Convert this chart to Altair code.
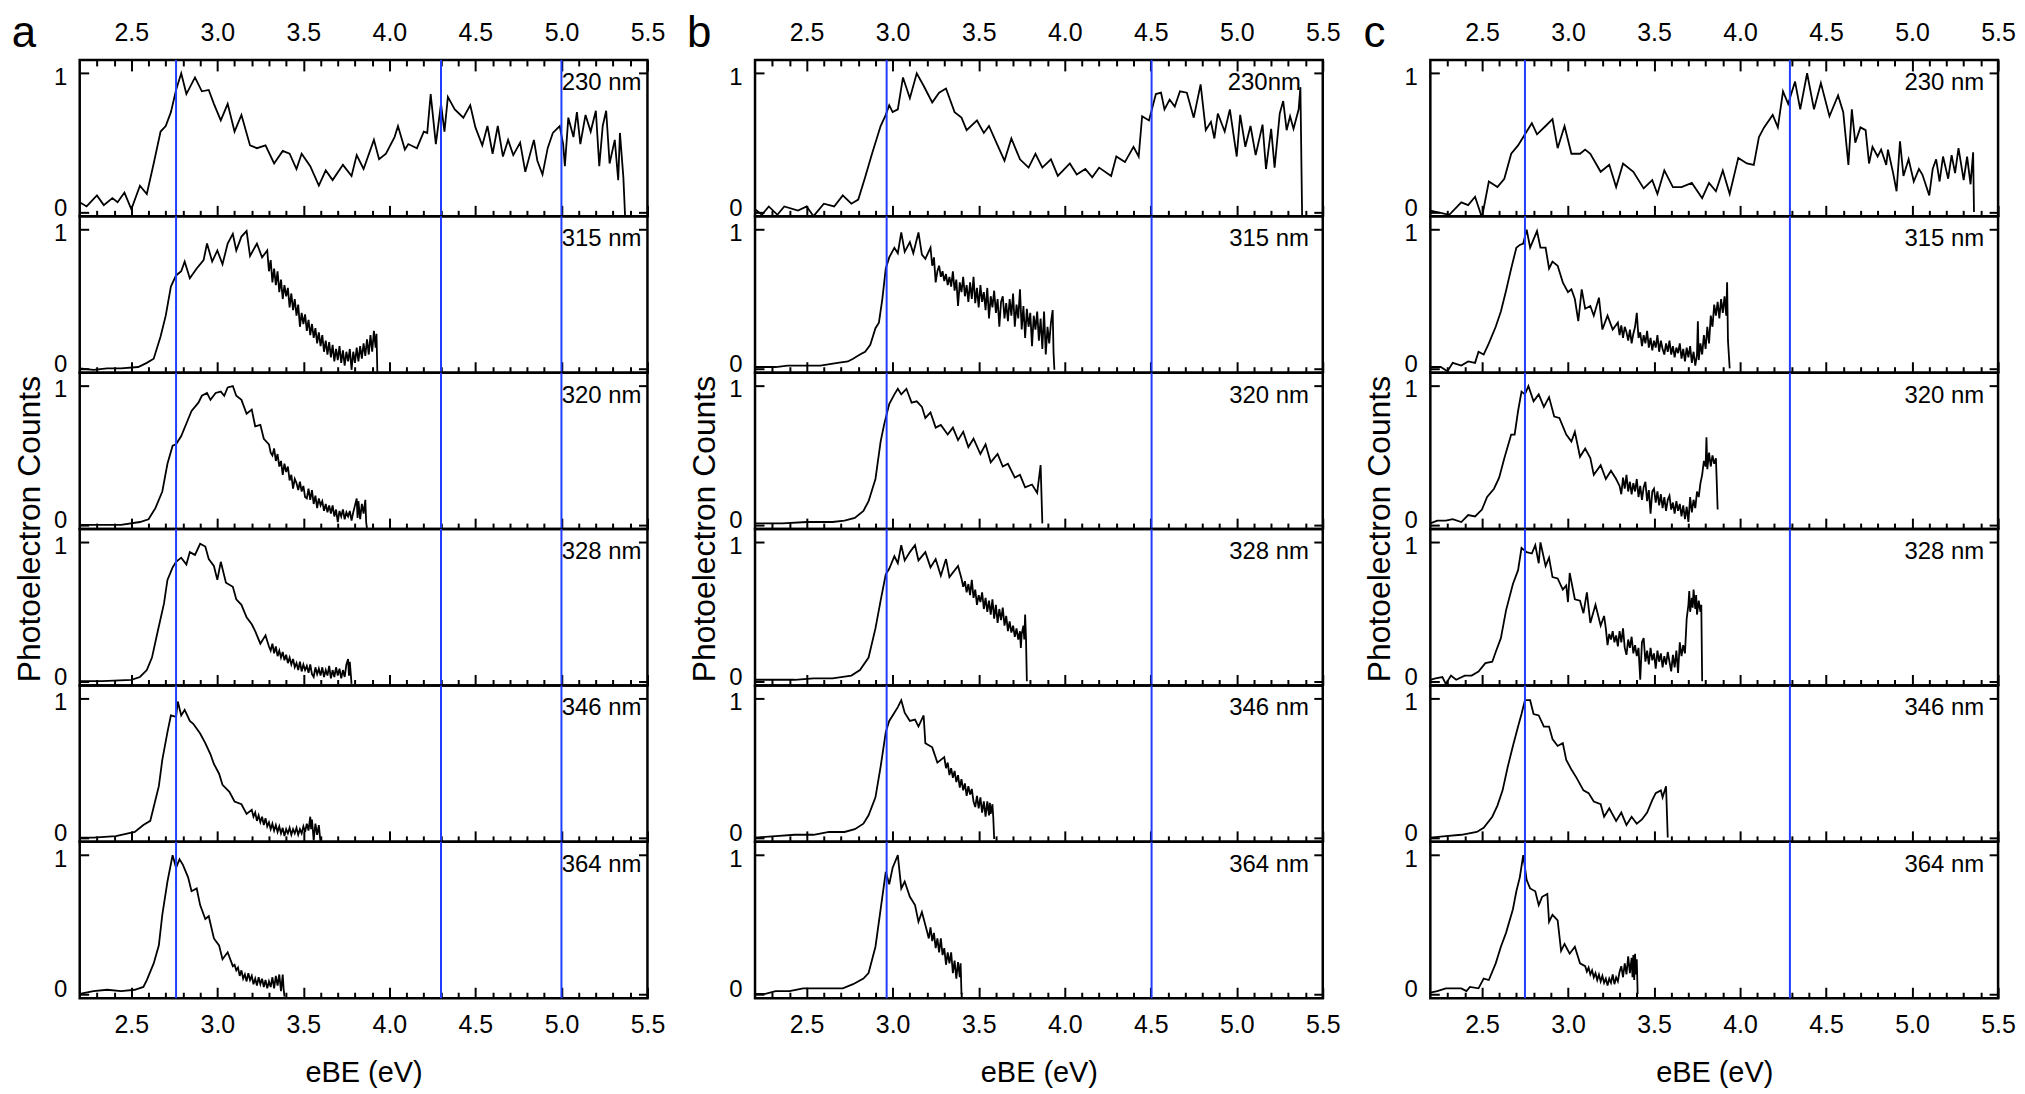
import altair as alt
import pandas as pd

FONT = "Liberation Sans"
BLUE = "#1f3cff"
XDOM = [2.2, 5.5]
YDOM = [-0.031, 1.096]
W, H = 570, 157

MAJOR = [2.5, 3.0, 3.5, 4.0, 4.5, 5.0, 5.5]
MINOR = [2.3, 2.4, 2.6, 2.7, 2.8, 2.9, 3.1, 3.2, 3.3, 3.4, 3.6, 3.7, 3.8, 3.9,
         4.1, 4.2, 4.3, 4.4, 4.6, 4.7, 4.8, 4.9, 5.1, 5.2, 5.3, 5.4]
YTICKS = [0, 1]

LABELS_A = ["230 nm", "315 nm", "320 nm", "328 nm", "346 nm", "364 nm"]
LABELS_B = ["230nm", "315 nm", "320 nm", "328 nm", "346 nm", "364 nm"]
LABELS_C = ["230 nm", "315 nm", "320 nm", "328 nm", "346 nm", "364 nm"]

VLINES_A = [2.76, 4.30, 5.00]
VLINES_B = [2.965, 4.505]
VLINES_C = [2.75, 4.29]

# ---------------- panel a ----------------
A230 = [(2.20,0.07),(2.24,0.04),(2.30,0.12),(2.34,0.05),(2.39,0.10),(2.42,0.07),(2.46,0.14),(2.50,0.02),
        (2.55,0.19),(2.59,0.13),(2.63,0.35),(2.67,0.58),(2.70,0.62),(2.73,0.72),(2.76,0.88),(2.79,1.00),
        (2.82,0.85),(2.87,0.97),(2.91,0.87),(2.95,0.88),(2.98,0.78),(3.02,0.66),(3.06,0.78),(3.10,0.58),
        (3.14,0.70),(3.19,0.48),(3.23,0.46),(3.28,0.48),(3.33,0.35),(3.38,0.44),(3.42,0.42),(3.46,0.31),
        (3.49,0.42),(3.54,0.33),(3.59,0.19),(3.63,0.30),(3.67,0.23),(3.73,0.34),(3.78,0.26),(3.81,0.41),
        (3.85,0.31),(3.91,0.52),(3.94,0.38),(3.98,0.42),(4.03,0.54),(4.05,0.62),(4.09,0.45),(4.11,0.49),
        (4.16,0.46),(4.20,0.58),(4.22,0.57),(4.24,0.85),(4.27,0.49),(4.30,0.78),(4.32,0.58),(4.34,0.83),
        (4.38,0.74),(4.43,0.68),(4.47,0.77),(4.50,0.61),(4.54,0.48),(4.57,0.62),(4.60,0.42),(4.63,0.62),
        (4.66,0.40),(4.69,0.52),(4.72,0.41),(4.76,0.50),(4.79,0.29),(4.84,0.52),(4.86,0.37),(4.89,0.27),
        (4.92,0.46),(4.95,0.57),(4.99,0.62),(5.01,0.49),(5.02,0.33),(5.04,0.68),(5.07,0.54),(5.09,0.72),
        (5.11,0.49),(5.14,0.70),(5.17,0.58),(5.20,0.73),(5.22,0.33),(5.24,0.62),(5.26,0.73),(5.28,0.35),
        (5.31,0.52),(5.33,0.23),(5.34,0.57),(5.36,0.25),(5.37,-0.03)]
A315 = [(2.20,0.00),(2.28,-0.01),(2.36,0.00),(2.44,0.00),(2.54,0.01),(2.59,0.04),(2.63,0.07),(2.67,0.23),
        (2.70,0.38),(2.73,0.59),(2.76,0.67),(2.79,0.70),(2.81,0.77),(2.84,0.65),(2.88,0.72),(2.92,0.78),
        (2.94,0.90),(2.97,0.77),(3.00,0.85),(3.03,0.75),(3.06,0.90),(3.09,0.97),(3.11,0.85),(3.14,0.95),
        (3.17,0.99),(3.19,0.81),(3.23,0.90),(3.26,0.80),(3.29,0.85),
        (3.30,0.70),(3.31,0.78),(3.32,0.62),(3.33,0.72),(3.34,0.60),(3.35,0.70),(3.36,0.55),(3.37,0.64),
        (3.38,0.50),(3.39,0.60),(3.40,0.52),(3.41,0.58),(3.42,0.44),(3.43,0.54),(3.44,0.42),(3.45,0.50),
        (3.46,0.38),(3.47,0.46),(3.48,0.30),(3.49,0.40),(3.50,0.32),(3.51,0.39),(3.52,0.27),(3.53,0.35),
        (3.54,0.24),(3.55,0.32),(3.56,0.22),(3.57,0.29),(3.58,0.18),(3.59,0.26),(3.60,0.16),(3.61,0.24),
        (3.62,0.12),(3.63,0.20),(3.64,0.10),(3.65,0.19),(3.66,0.08),(3.67,0.17),(3.68,0.05),(3.69,0.14),
        (3.70,0.06),(3.71,0.16),(3.72,0.04),(3.73,0.13),(3.74,0.02),(3.75,0.12),(3.76,0.05),(3.77,0.14),
        (3.78,-0.01),(3.79,0.12),(3.80,0.04),(3.81,0.15),(3.82,0.05),(3.83,0.16),(3.84,0.07),(3.85,0.18),
        (3.86,0.09),(3.87,0.21),(3.88,0.10),(3.89,0.24),(3.90,0.12),(3.91,0.27),(3.92,0.15),(3.925,0.25),
        (3.93,-0.03)]
A320 = [(2.20,0.00),(2.33,0.00),(2.44,0.00),(2.55,0.02),(2.60,0.04),(2.64,0.12),(2.68,0.24),(2.71,0.44),
        (2.74,0.57),(2.76,0.58),(2.79,0.64),(2.82,0.73),(2.85,0.82),(2.89,0.88),(2.91,0.93),(2.94,0.95),
        (2.96,0.90),(2.99,0.95),(3.02,0.96),(3.04,0.93),(3.06,0.99),(3.09,1.00),(3.11,0.93),(3.14,0.90),
        (3.17,0.80),(3.20,0.83),(3.22,0.71),(3.25,0.72),(3.27,0.62),
        (3.30,0.58),(3.31,0.52),(3.32,0.50),(3.33,0.55),(3.34,0.46),(3.35,0.51),(3.36,0.42),(3.37,0.46),
        (3.38,0.36),(3.39,0.44),(3.40,0.38),(3.41,0.42),(3.42,0.32),(3.43,0.36),(3.44,0.26),(3.45,0.33),
        (3.46,0.30),(3.47,0.25),(3.48,0.31),(3.49,0.24),(3.50,0.28),(3.51,0.20),(3.52,0.19),(3.53,0.26),
        (3.54,0.18),(3.55,0.25),(3.56,0.15),(3.57,0.21),(3.58,0.12),(3.59,0.19),(3.60,0.14),(3.61,0.17),
        (3.62,0.10),(3.63,0.15),(3.64,0.09),(3.65,0.14),(3.66,0.08),(3.67,0.14),(3.68,0.06),(3.69,0.11),
        (3.70,0.02),(3.71,0.10),(3.72,0.06),(3.73,0.11),(3.74,0.04),(3.75,0.09),(3.76,0.06),(3.77,0.10),
        (3.78,0.03),(3.79,0.09),(3.80,0.14),(3.81,0.19),(3.815,0.05),(3.82,0.17),(3.83,0.04),(3.84,0.15),
        (3.85,0.08),(3.86,0.18),(3.865,0.02),(3.87,-0.03)]
A328 = [(2.20,0.00),(2.33,0.00),(2.50,0.01),(2.55,0.03),(2.59,0.08),(2.62,0.17),(2.65,0.34),(2.69,0.56),
        (2.71,0.73),(2.74,0.82),(2.76,0.86),(2.79,0.89),(2.82,0.84),(2.84,0.93),(2.87,0.91),(2.90,0.99),
        (2.93,0.97),(2.95,0.88),(2.98,0.83),(3.00,0.73),(3.02,0.86),(3.05,0.71),(3.09,0.68),(3.11,0.59),
        (3.14,0.55),(3.17,0.46),(3.20,0.41),(3.22,0.36),(3.25,0.27),(3.28,0.33),
        (3.30,0.25),(3.31,0.22),(3.32,0.27),(3.33,0.20),(3.34,0.25),(3.35,0.18),(3.36,0.22),(3.37,0.17),
        (3.38,0.21),(3.39,0.15),(3.40,0.19),(3.41,0.13),(3.42,0.17),(3.43,0.12),(3.44,0.16),(3.45,0.10),
        (3.46,0.13),(3.47,0.08),(3.48,0.14),(3.49,0.07),(3.50,0.12),(3.51,0.08),(3.52,0.11),(3.53,0.06),
        (3.54,0.12),(3.55,0.05),(3.56,0.03),(3.57,0.10),(3.58,0.05),(3.59,0.09),(3.60,0.04),(3.61,0.10),
        (3.62,0.03),(3.63,0.08),(3.64,0.04),(3.65,0.11),(3.66,0.02),(3.67,0.08),(3.68,0.03),(3.69,0.10),
        (3.70,0.04),(3.71,0.09),(3.72,0.02),(3.73,0.08),(3.74,0.03),(3.75,0.12),(3.76,0.16),(3.765,0.04),
        (3.77,0.14),(3.78,-0.02)]
A346 = [(2.20,0.00),(2.28,0.00),(2.41,0.01),(2.52,0.04),(2.57,0.09),(2.61,0.12),(2.63,0.22),(2.66,0.37),
        (2.68,0.56),(2.71,0.76),(2.73,0.88),(2.76,0.87),(2.77,0.98),(2.79,0.88),(2.81,0.92),(2.84,0.84),
        (2.86,0.82),(2.90,0.75),(2.93,0.68),(2.96,0.60),(2.98,0.53),(3.01,0.46),(3.03,0.38),(3.07,0.33),
        (3.10,0.26),(3.14,0.24),(3.17,0.17),
        (3.20,0.20),(3.21,0.15),(3.22,0.18),(3.23,0.12),(3.24,0.16),(3.25,0.11),(3.26,0.15),(3.27,0.09),
        (3.28,0.14),(3.29,0.08),(3.30,0.11),(3.31,0.06),(3.32,0.10),(3.33,0.05),(3.34,0.09),(3.35,0.04),
        (3.36,0.08),(3.37,0.03),(3.38,0.07),(3.39,0.01),(3.40,0.06),(3.41,0.03),(3.42,0.07),(3.43,0.02),
        (3.44,0.06),(3.45,0.03),(3.46,0.07),(3.47,0.02),(3.48,0.06),(3.49,0.03),(3.50,0.08),(3.51,0.04),
        (3.52,0.10),(3.53,0.05),(3.54,0.15),(3.545,0.06),(3.55,0.13),(3.56,-0.02),(3.57,0.10),(3.58,0.02),
        (3.59,0.09),(3.60,-0.04)]
A364 = [(2.20,0.00),(2.28,0.02),(2.36,0.03),(2.44,0.02),(2.52,0.03),(2.57,0.05),(2.59,0.10),(2.63,0.22),
        (2.66,0.35),(2.68,0.57),(2.71,0.81),(2.74,1.00),(2.76,0.91),(2.78,0.97),(2.80,0.93),(2.83,0.84),
        (2.85,0.74),(2.88,0.76),(2.90,0.64),(2.93,0.54),(2.95,0.56),(2.98,0.40),(3.01,0.35),(3.03,0.25),
        (3.06,0.30),(3.09,0.20),
        (3.10,0.21),(3.11,0.17),(3.12,0.19),(3.13,0.13),(3.14,0.17),(3.15,0.11),(3.16,0.14),(3.17,0.09),
        (3.18,0.15),(3.19,0.10),(3.20,0.13),(3.21,0.07),(3.22,0.11),(3.23,0.06),(3.24,0.12),(3.25,0.07),
        (3.26,0.11),(3.27,0.05),(3.28,0.10),(3.29,0.04),(3.30,0.09),(3.31,0.05),(3.32,0.12),(3.33,0.04),
        (3.34,0.13),(3.35,0.06),(3.36,0.14),(3.37,0.02),(3.38,0.14),(3.385,0.04),(3.39,-0.02)]

# ---------------- panel b ----------------
B230 = [(2.20,0.02),(2.24,-0.02),(2.28,0.04),(2.33,-0.02),(2.37,0.04),(2.45,0.01),(2.50,0.04),(2.54,-0.03),
        (2.60,0.06),(2.66,0.04),(2.71,0.12),(2.76,0.06),(2.80,0.09),(2.84,0.25),(2.88,0.42),(2.93,0.62),
        (2.96,0.70),(2.98,0.77),(3.00,0.72),(3.03,0.74),(3.06,0.97),(3.10,0.82),(3.14,1.00),(3.18,0.91),
        (3.23,0.79),(3.27,0.86),(3.31,0.89),(3.36,0.72),(3.40,0.68),(3.43,0.59),(3.49,0.66),(3.53,0.57),
        (3.56,0.62),(3.61,0.48),(3.65,0.37),(3.69,0.53),(3.74,0.38),(3.79,0.32),(3.83,0.42),(3.87,0.32),
        (3.92,0.38),(3.96,0.26),(4.03,0.35),(4.07,0.27),(4.12,0.31),(4.16,0.25),(4.20,0.32),(4.27,0.26),
        (4.30,0.40),(4.35,0.36),(4.40,0.47),(4.43,0.40),(4.45,0.69),(4.49,0.66),(4.53,0.85),(4.56,0.86),
        (4.58,0.74),(4.61,0.81),(4.64,0.76),(4.67,0.87),(4.71,0.86),(4.75,0.68),(4.79,0.92),(4.82,0.59),
        (4.85,0.65),(4.87,0.53),(4.89,0.71),(4.93,0.58),(4.96,0.74),(5.00,0.40),(5.02,0.70),(5.05,0.47),
        (5.08,0.62),(5.11,0.41),(5.15,0.63),(5.17,0.31),(5.20,0.60),(5.22,0.32),(5.25,0.71),(5.27,0.80),
        (5.29,0.59),(5.31,0.69),(5.33,0.60),(5.36,0.74),(5.37,0.90),(5.38,-0.03)]
B315 = [(2.20,0.01),(2.32,0.01),(2.39,0.02),(2.48,0.02),(2.58,0.02),(2.68,0.04),(2.74,0.05),(2.77,0.07),
        (2.81,0.10),(2.84,0.12),(2.87,0.17),(2.90,0.29),(2.92,0.33),(2.94,0.50),(2.96,0.72),(2.98,0.80),
        (3.01,0.87),(3.03,0.83),(3.05,0.98),(3.07,0.84),(3.10,0.91),(3.12,0.83),(3.15,0.98),(3.17,0.82),
        (3.19,0.79),
        (3.22,0.87),(3.23,0.74),(3.24,0.80),(3.25,0.62),(3.26,0.70),(3.27,0.74),(3.28,0.66),(3.29,0.70),
        (3.30,0.63),(3.31,0.68),(3.32,0.60),(3.33,0.66),(3.34,0.59),(3.35,0.70),(3.36,0.56),(3.37,0.64),
        (3.38,0.45),(3.39,0.62),(3.40,0.55),(3.41,0.66),(3.42,0.52),(3.43,0.60),(3.44,0.48),(3.45,0.62),
        (3.46,0.50),(3.47,0.66),(3.48,0.47),(3.49,0.58),(3.50,0.44),(3.51,0.60),(3.52,0.48),(3.53,0.55),
        (3.54,0.42),(3.55,0.58),(3.56,0.36),(3.57,0.52),(3.58,0.44),(3.59,0.56),(3.60,0.40),(3.61,0.50),
        (3.62,0.30),(3.63,0.48),(3.64,0.52),(3.65,0.36),(3.66,0.47),(3.67,0.34),(3.68,0.50),(3.69,0.38),
        (3.70,0.54),(3.71,0.30),(3.72,0.46),(3.73,0.36),(3.74,0.57),(3.75,0.28),(3.76,0.45),(3.77,0.22),
        (3.78,0.43),(3.79,0.30),(3.80,0.40),(3.81,0.16),(3.82,0.38),(3.83,0.28),(3.84,0.41),(3.85,0.20),
        (3.86,0.36),(3.87,0.14),(3.88,0.41),(3.89,0.10),(3.90,0.30),(3.91,0.18),(3.92,0.33),(3.93,0.42),
        (3.935,0.12),(3.94,-0.01)]
B320 = [(2.20,0.01),(2.36,0.01),(2.50,0.02),(2.65,0.02),(2.72,0.03),(2.78,0.05),(2.83,0.10),(2.86,0.17),
        (2.90,0.33),(2.93,0.60),(2.95,0.72),(2.98,0.87),(3.01,0.94),(3.03,0.98),(3.05,0.94),(3.08,0.98),
        (3.11,0.88),(3.14,0.89),(3.17,0.85),(3.19,0.77),(3.22,0.81),(3.25,0.70),(3.28,0.72),(3.32,0.65),
        (3.35,0.70),(3.38,0.61),(3.41,0.67),(3.44,0.56),(3.47,0.62),(3.51,0.51),(3.54,0.58),(3.57,0.45),
        (3.61,0.51),(3.64,0.42),(3.67,0.44),(3.71,0.34),(3.74,0.36),(3.77,0.27),(3.81,0.29),(3.84,0.23),
        (3.86,0.43),(3.87,0.01)]
B328 = [(2.20,0.01),(2.32,0.01),(2.43,0.01),(2.54,0.02),(2.65,0.02),(2.76,0.04),(2.81,0.08),(2.86,0.17),
        (2.90,0.38),(2.93,0.58),(2.96,0.77),(2.98,0.81),(3.01,0.90),(3.03,0.85),(3.05,0.98),(3.07,0.87),
        (3.10,0.93),(3.13,0.98),(3.15,0.87),(3.19,0.93),(3.22,0.82),(3.25,0.88),(3.28,0.76),(3.31,0.88),
        (3.33,0.75),(3.38,0.83),
        (3.40,0.74),(3.41,0.68),(3.42,0.72),(3.43,0.64),(3.44,0.70),(3.45,0.62),(3.46,0.73),(3.47,0.60),
        (3.48,0.66),(3.49,0.55),(3.50,0.62),(3.51,0.57),(3.52,0.64),(3.53,0.52),(3.54,0.60),(3.55,0.50),
        (3.56,0.58),(3.57,0.48),(3.58,0.59),(3.59,0.45),(3.60,0.55),(3.61,0.42),(3.62,0.52),(3.63,0.44),
        (3.64,0.53),(3.65,0.40),(3.66,0.47),(3.67,0.36),(3.68,0.43),(3.69,0.35),(3.70,0.40),(3.71,0.32),
        (3.72,0.38),(3.73,0.30),(3.74,0.36),(3.745,0.24),(3.75,0.34),(3.76,0.40),(3.765,0.30),(3.77,0.48),
        (3.775,0.31),(3.78,0.00)]
B346 = [(2.20,0.00),(2.32,0.01),(2.43,0.02),(2.54,0.02),(2.63,0.04),(2.72,0.04),(2.78,0.06),(2.83,0.10),
        (2.86,0.16),(2.90,0.29),(2.93,0.51),(2.96,0.76),(2.98,0.84),(3.01,0.90),(3.03,0.94),(3.05,0.99),
        (3.07,0.90),(3.10,0.84),(3.13,0.85),(3.15,0.80),(3.18,0.88),(3.19,0.68),(3.23,0.65),(3.26,0.54),
        (3.30,0.58),(3.31,0.50),(3.32,0.54),(3.33,0.45),(3.34,0.50),(3.35,0.43),(3.36,0.48),(3.37,0.40),
        (3.38,0.45),(3.39,0.36),(3.40,0.42),(3.41,0.34),(3.42,0.39),(3.43,0.30),(3.44,0.37),(3.45,0.31),
        (3.46,0.35),(3.47,0.26),(3.48,0.22),(3.49,0.30),(3.50,0.21),(3.51,0.29),(3.52,0.18),(3.53,0.26),
        (3.54,0.15),(3.55,0.26),(3.56,0.16),(3.565,0.25),(3.57,0.17),(3.58,0.24),(3.585,0.14),(3.59,-0.01)]
B364 = [(2.20,0.00),(2.26,0.00),(2.32,0.02),(2.40,0.02),(2.48,0.04),(2.54,0.04),(2.63,0.04),(2.71,0.04),
        (2.77,0.07),(2.83,0.11),(2.86,0.15),(2.90,0.34),(2.93,0.61),(2.96,0.88),(2.98,0.79),(3.00,0.91),
        (3.03,1.00),(3.05,0.76),(3.07,0.81),(3.10,0.70),(3.13,0.64),(3.15,0.52),(3.17,0.59),
        (3.20,0.45),(3.21,0.40),(3.22,0.48),(3.23,0.38),(3.24,0.44),(3.25,0.33),(3.26,0.40),(3.27,0.30),
        (3.28,0.40),(3.29,0.28),(3.30,0.33),(3.31,0.21),(3.32,0.30),(3.33,0.22),(3.34,0.30),(3.35,0.15),
        (3.36,0.24),(3.37,0.11),(3.38,0.23),(3.39,0.12),(3.395,0.22),(3.40,0.00)]

# ---------------- panel c ----------------
C230 = [(2.20,0.01),(2.24,0.00),(2.31,-0.02),(2.38,0.07),(2.42,0.05),(2.46,0.11),(2.50,-0.04),(2.54,0.22),
        (2.59,0.18),(2.63,0.24),(2.67,0.42),(2.71,0.48),(2.75,0.56),(2.79,0.64),(2.82,0.56),(2.87,0.62),
        (2.91,0.67),(2.94,0.46),(2.98,0.62),(3.02,0.42),(3.07,0.42),(3.10,0.45),(3.13,0.42),(3.19,0.29),
        (3.24,0.34),(3.28,0.18),(3.32,0.35),(3.38,0.29),(3.44,0.17),(3.49,0.23),(3.52,0.13),(3.56,0.30),
        (3.61,0.18),(3.66,0.18),(3.72,0.21),(3.78,0.10),(3.82,0.21),(3.86,0.15),(3.90,0.30),(3.94,0.13),
        (3.99,0.39),(4.04,0.35),(4.08,0.34),(4.11,0.54),(4.14,0.61),(4.19,0.70),(4.22,0.61),(4.25,0.87),
        (4.28,0.78),(4.32,0.94),(4.35,0.74),(4.39,1.00),(4.43,0.74),(4.47,0.93),(4.52,0.69),(4.57,0.84),
        (4.60,0.72),(4.63,0.34),(4.65,0.74),(4.67,0.50),(4.70,0.61),(4.73,0.59),(4.75,0.35),(4.77,0.47),
        (4.80,0.40),(4.82,0.45),(4.85,0.34),(4.86,0.45),(4.89,0.28),(4.91,0.15),(4.93,0.51),(4.95,0.26),
        (4.98,0.38),(5.01,0.22),(5.04,0.31),(5.06,0.27),(5.10,0.12),(5.12,0.31),(5.14,0.38),(5.16,0.22),
        (5.18,0.40),(5.21,0.24),(5.23,0.41),(5.25,0.28),(5.27,0.46),(5.30,0.23),(5.32,0.40),(5.34,0.20),
        (5.355,0.43),(5.36,0.00)]
C315 = [(2.20,0.01),(2.26,0.01),(2.30,-0.02),(2.33,0.04),(2.38,0.02),(2.42,0.05),(2.46,0.04),(2.48,0.12),
        (2.51,0.10),(2.54,0.18),(2.58,0.30),(2.61,0.41),(2.64,0.56),(2.67,0.72),(2.70,0.87),(2.72,0.89),
        (2.74,0.90),(2.76,1.00),(2.78,0.87),(2.82,0.99),(2.84,0.87),(2.87,0.87),(2.89,0.72),(2.91,0.77),
        (2.94,0.74),(2.97,0.62),(3.00,0.55),(3.02,0.57),(3.04,0.50),(3.06,0.34),(3.08,0.57),(3.10,0.43),
        (3.13,0.45),(3.15,0.38),(3.18,0.51),(3.20,0.28),(3.23,0.38),(3.26,0.28),
        (3.29,0.33),(3.30,0.24),(3.31,0.31),(3.32,0.22),(3.33,0.30),(3.34,0.26),(3.35,0.20),(3.36,0.28),
        (3.37,0.18),(3.38,0.25),(3.39,0.30),(3.40,0.40),(3.41,0.22),(3.42,0.26),(3.43,0.16),(3.44,0.24),
        (3.45,0.18),(3.46,0.27),(3.47,0.15),(3.48,0.22),(3.49,0.13),(3.50,0.20),(3.51,0.15),(3.52,0.24),
        (3.53,0.12),(3.54,0.20),(3.55,0.14),(3.56,0.10),(3.57,0.18),(3.58,0.12),(3.59,0.20),(3.60,0.10),
        (3.61,0.16),(3.62,0.08),(3.63,0.15),(3.64,0.11),(3.65,0.18),(3.66,0.07),(3.67,0.14),(3.68,0.05),
        (3.69,0.15),(3.70,0.08),(3.71,0.16),(3.72,0.04),(3.73,0.12),(3.74,0.02),(3.75,0.10),(3.755,0.34),
        (3.76,0.06),(3.77,0.18),(3.78,0.10),(3.79,0.24),(3.80,0.14),(3.81,0.30),(3.82,0.18),(3.83,0.38),
        (3.84,0.30),(3.85,0.46),(3.86,0.38),(3.87,0.48),(3.88,0.36),(3.89,0.50),(3.90,0.40),(3.91,0.52),
        (3.92,0.38),(3.925,0.62),(3.93,0.20),(3.94,0.00)]
C320 = [(2.20,0.01),(2.24,0.03),(2.29,0.03),(2.33,0.04),(2.38,0.02),(2.42,0.07),(2.46,0.06),(2.50,0.11),
        (2.53,0.20),(2.57,0.26),(2.60,0.34),(2.63,0.48),(2.67,0.65),(2.69,0.65),(2.71,0.82),(2.73,0.96),
        (2.75,0.94),(2.77,1.00),(2.80,0.89),(2.83,0.94),(2.86,0.85),(2.89,0.92),(2.92,0.78),(2.95,0.77),
        (2.99,0.65),(3.02,0.60),(3.04,0.67),(3.07,0.49),(3.10,0.55),(3.13,0.48),(3.15,0.36),(3.19,0.43),
        (3.22,0.33),(3.25,0.39),(3.28,0.33),
        (3.30,0.28),(3.31,0.22),(3.32,0.34),(3.33,0.26),(3.34,0.36),(3.35,0.24),(3.36,0.31),(3.37,0.22),
        (3.38,0.30),(3.39,0.24),(3.40,0.33),(3.41,0.20),(3.42,0.28),(3.43,0.18),(3.44,0.27),(3.45,0.31),
        (3.46,0.17),(3.47,0.25),(3.48,0.08),(3.49,0.24),(3.50,0.26),(3.51,0.16),(3.52,0.24),(3.53,0.14),
        (3.54,0.22),(3.55,0.12),(3.56,0.20),(3.57,0.10),(3.58,0.18),(3.59,0.21),(3.60,0.11),(3.61,0.16),
        (3.62,0.08),(3.63,0.17),(3.64,0.10),(3.65,0.15),(3.66,0.06),(3.67,0.14),(3.68,0.04),(3.69,0.13),
        (3.70,0.02),(3.71,0.20),(3.72,0.09),(3.73,0.18),(3.74,0.12),(3.75,0.24),(3.76,0.20),(3.77,0.30),
        (3.78,0.36),(3.79,0.46),(3.80,0.42),(3.805,0.63),(3.81,0.40),(3.82,0.52),(3.83,0.42),(3.84,0.50),
        (3.85,0.44),(3.86,0.48),(3.865,0.30),(3.87,0.11)]
C328 = [(2.20,0.01),(2.23,0.02),(2.27,0.03),(2.29,-0.02),(2.32,0.04),(2.35,0.01),(2.40,0.04),(2.44,0.04),
        (2.48,0.07),(2.52,0.13),(2.56,0.14),(2.58,0.21),(2.61,0.31),(2.64,0.51),(2.68,0.70),(2.71,0.80),
        (2.73,0.96),(2.76,0.93),(2.79,0.92),(2.81,0.98),(2.83,0.85),(2.84,1.00),(2.87,0.83),(2.89,0.89),
        (2.91,0.75),(2.94,0.74),(2.97,0.66),(2.99,0.69),(3.00,0.57),(3.01,0.78),(3.04,0.59),(3.07,0.58),
        (3.09,0.49),(3.11,0.64),(3.13,0.42),(3.16,0.55),(3.19,0.40),(3.21,0.47),
        (3.22,0.38),(3.23,0.26),(3.24,0.34),(3.25,0.30),(3.26,0.36),(3.27,0.28),(3.28,0.33),(3.29,0.25),
        (3.30,0.36),(3.31,0.28),(3.32,0.38),(3.33,0.24),(3.34,0.19),(3.35,0.30),(3.36,0.24),(3.37,0.32),
        (3.38,0.20),(3.39,0.26),(3.40,0.18),(3.41,0.24),(3.42,0.01),(3.43,0.28),(3.44,0.31),(3.45,0.14),
        (3.46,0.22),(3.47,0.12),(3.48,0.24),(3.49,0.15),(3.50,0.20),(3.51,0.09),(3.52,0.22),(3.53,0.14),
        (3.54,0.20),(3.55,0.10),(3.56,0.18),(3.57,0.12),(3.58,0.21),(3.59,0.14),(3.60,0.07),(3.61,0.19),
        (3.62,0.10),(3.63,0.22),(3.64,0.06),(3.65,0.28),(3.66,0.18),(3.67,0.26),(3.68,0.20),(3.69,0.45),
        (3.70,0.55),(3.705,0.65),(3.71,0.50),(3.72,0.60),(3.725,0.53),(3.73,0.66),(3.74,0.52),(3.745,0.62),
        (3.75,0.48),(3.76,0.58),(3.77,0.50),(3.775,0.55),(3.78,0.00)]
C346 = [(2.20,0.00),(2.29,0.01),(2.38,0.02),(2.47,0.04),(2.51,0.07),(2.56,0.15),(2.59,0.23),(2.62,0.34),
        (2.65,0.51),(2.68,0.66),(2.71,0.80),(2.73,0.89),(2.75,0.99),(2.78,0.99),(2.80,0.89),(2.83,0.88),
        (2.86,0.80),(2.89,0.80),(2.91,0.71),(2.94,0.66),(2.97,0.68),(2.99,0.56),(3.02,0.49),(3.05,0.43),
        (3.09,0.34),(3.12,0.32),(3.15,0.26),(3.19,0.24),(3.21,0.15),(3.24,0.21),(3.28,0.12),(3.31,0.18),
        (3.34,0.09),(3.37,0.15),(3.40,0.10),(3.43,0.13),(3.46,0.18),(3.49,0.27),(3.51,0.32),(3.54,0.34),
        (3.55,0.29),(3.57,0.37),(3.58,0.00)]
C364 = [(2.20,0.01),(2.24,0.02),(2.29,0.04),(2.33,0.04),(2.38,0.04),(2.41,0.02),(2.43,0.05),(2.48,0.04),
        (2.51,0.11),(2.54,0.10),(2.58,0.22),(2.61,0.34),(2.64,0.44),(2.68,0.61),(2.70,0.74),(2.72,0.84),
        (2.74,1.00),(2.76,0.82),(2.78,0.76),(2.81,0.74),(2.83,0.64),(2.85,0.70),(2.88,0.72),(2.89,0.52),
        (2.91,0.57),(2.94,0.53),(2.96,0.31),(2.98,0.36),(3.01,0.29),(3.04,0.34),(3.07,0.22),
        (3.10,0.20),(3.11,0.16),(3.12,0.19),(3.13,0.14),(3.14,0.17),(3.15,0.12),(3.16,0.15),(3.17,0.10),
        (3.18,0.14),(3.19,0.09),(3.20,0.13),(3.21,0.08),(3.22,0.11),(3.23,0.06),(3.24,0.11),(3.25,0.08),
        (3.26,0.14),(3.27,0.07),(3.28,0.12),(3.29,0.09),(3.30,0.16),(3.31,0.20),(3.32,0.12),(3.33,0.22),
        (3.34,0.14),(3.35,0.27),(3.36,0.15),(3.37,0.26),(3.375,0.12),(3.38,0.28),(3.385,0.10),(3.39,0.29),
        (3.395,0.14),(3.40,0.25),(3.405,0.00)]

PANELS = [
    ("a", [A230, A315, A320, A328, A346, A364], LABELS_A, VLINES_A, 6),
    ("b", [B230, B315, B320, B328, B346, B364], LABELS_B, VLINES_B, 14),
    ("c", [C230, C315, C320, C328, C346, C364], LABELS_C, VLINES_C, 14),
]


def xscale():
    return alt.Scale(domain=XDOM, nice=False, zero=False)


def yscale():
    return alt.Scale(domain=YDOM, nice=False, zero=False)


def make_row(points, label, vlines, row, letter, inset):
    df = pd.DataFrame(points, columns=["eBE", "counts"])
    top = row == 0
    bottom = row == 5

    major_kw = dict(orient="bottom", values=MAJOR, tickSize=11, offset=-11, domain=False, grid=False,
                    labels=bottom, format=".1f", labelPadding=14, labelFlush=False, labelOverlap=False,
                    titlePadding=22)
    if bottom:
        ax_major = alt.Axis(title="eBE (eV)", **major_kw)
    else:
        ax_major = alt.Axis(title=None, **major_kw)
    ax_minor = alt.Axis(orient="bottom", values=MINOR, tickSize=6, offset=-6, domain=False, grid=False,
                        labels=False, title=None)
    ax_left = alt.Axis(orient="left", values=YTICKS, tickSize=9, offset=-9, domain=False, grid=False,
                       format="d", labelPadding=13, labelFlush=False, labelOverlap=False, title=None,
                       labelFontSize=24,
                       labelOffset={"condition": {"test": "datum.value == 0", "value": -4}, "value": 4})
    ax_right = alt.Axis(orient="right", values=YTICKS, tickSize=9, offset=-9, domain=False, grid=False,
                        labels=False, title=None)

    line = alt.Chart(df).mark_line(color="black", strokeWidth=1.8, clip=True).encode(
        x=alt.X("eBE:Q", scale=xscale(), axis=ax_major),
        y=alt.Y("counts:Q", scale=yscale(), axis=ax_left),
    )
    carrier = alt.Chart(df).mark_line(opacity=0).encode(
        x=alt.X("eBE:Q", scale=xscale(), axis=ax_minor),
        y=alt.Y("counts:Q", scale=yscale(), axis=ax_right),
    )
    layers = [line, carrier]

    if top:
        ax_top_major = alt.Axis(orient="top", values=MAJOR, tickSize=11, offset=-11, domain=False, grid=False,
                                labels=True, format=".1f", labelPadding=15, labelFlush=False,
                                labelOverlap=False, title=None)
        ax_top_minor = alt.Axis(orient="top", values=MINOR, tickSize=6, offset=-6, domain=False, grid=False,
                                labels=False, title=None)
        layers.append(alt.Chart(df).mark_line(opacity=0).encode(
            x=alt.X("eBE:Q", scale=xscale(), axis=ax_top_major),
            y=alt.Y("counts:Q", scale=yscale(), axis=None)))
        layers.append(alt.Chart(df).mark_line(opacity=0).encode(
            x=alt.X("eBE:Q", scale=xscale(), axis=ax_top_minor),
            y=alt.Y("counts:Q", scale=yscale(), axis=None)))
        layers.append(alt.Chart(pd.DataFrame({"t": [letter]})).mark_text(
            font=FONT, fontSize=44, align="center", baseline="alphabetic", color="black"
        ).encode(x=alt.value(-56), y=alt.value(-13), text="t:N"))

    if row == 2:
        layers.append(alt.Chart(pd.DataFrame({"t": ["Photoelectron Counts"]})).mark_text(
            font=FONT, fontSize=32, angle=270, align="center", baseline="middle", color="black"
        ).encode(x=alt.value(-50), y=alt.value(H), text="t:N"))

    rules = alt.Chart(pd.DataFrame({"v": vlines})).mark_rule(color=BLUE, strokeWidth=2).encode(
        x=alt.X("v:Q", scale=xscale(), axis=None)
    )
    layers.append(rules)

    ins = inset + 8 if (row == 0 and letter == "b") else inset
    lab = alt.Chart(pd.DataFrame({"t": [label]})).mark_text(
        font=FONT, fontSize=24, align="right", baseline="alphabetic", color="black"
    ).encode(x=alt.value(W - ins), y=alt.value(30), text="t:N")
    layers.append(lab)

    return alt.layer(*layers).resolve_axis(x="independent", y="independent").properties(width=W, height=H)


cells = []
for i in range(6):
    for letter, series, labels, vlines, inset in PANELS:
        cells.append(make_row(series[i], labels[i], vlines, i, letter, inset))

chart = alt.concat(
    *cells, columns=3, spacing={"row": 0, "column": 108}, bounds="flush"
).properties(
    padding={"left": 2, "top": 0, "right": 0, "bottom": 0}
).configure_view(
    stroke="black", strokeWidth=2.5
).configure_axis(
    tickColor="black", tickWidth=2, labelColor="black", labelFont=FONT, labelFontSize=25,
    titleFont=FONT, titleFontSize=29, titleFontWeight="normal", titleColor="black"
).configure_text(font=FONT)

chart.save("out.html", embed_options={"renderer": "svg", "actions": False})
